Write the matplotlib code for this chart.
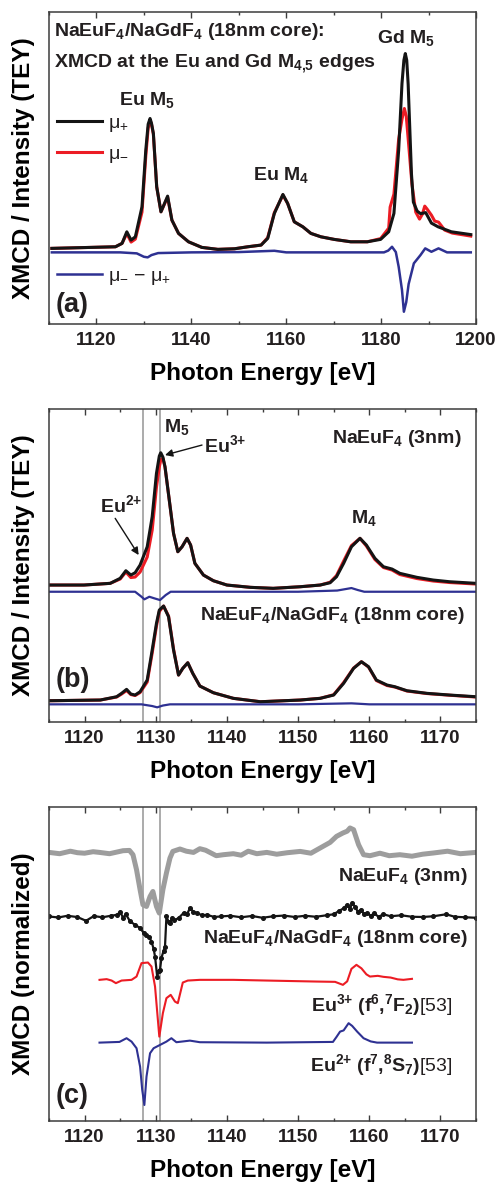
import matplotlib
matplotlib.use('Agg')
import matplotlib.pyplot as plt
from matplotlib.ticker import MultipleLocator

# ---- panel (a): Eu and Gd M4,5 edges, 18 nm core sample ----
a_energy_plus = [1110.6, 1124.0, 1125.4, 1126.4, 1127.3, 1128.2, 1129.6, 1130.4, 1130.9,
                 1131.3, 1131.6, 1132.0, 1132.7, 1133.6, 1135.0, 1135.9, 1137.3, 1139.4,
                 1142.2, 1145.6, 1149.1, 1151.9, 1154.7, 1156.1, 1157.5, 1159.3, 1160.3,
                 1161.7, 1163.5, 1165.2, 1167.3, 1170.1, 1173.6, 1177.1, 1179.9, 1181.6,
                 1182.7, 1183.7, 1184.4, 1184.8, 1185.1, 1185.4, 1185.7, 1186.4, 1186.8,
                 1187.6, 1188.3, 1189.4, 1190.6, 1192.0, 1194.8, 1198.9]
a_mu_plus = [75.7, 77.3, 80.7, 92.3, 84.0, 87.3, 117.3, 174.0, 200.0,
             205.7, 201.0, 190.7, 137.3, 112.3, 128.0, 104.0, 90.7, 82.3,
             76.7, 74.7, 75.3, 77.3, 79.0, 85.7, 110.7, 129.7, 120.7,
             102.3, 97.3, 90.7, 87.3, 84.7, 82.3, 82.3, 84.7, 92.3,
             110.7, 174.0, 240.7, 264.0, 270.7, 264.0, 240.0, 150.0, 122.0,
             113.0, 110.5, 111.5, 101.0, 97.3, 92.3, 89.5]

a_energy_minus = [1110.6, 1124.0, 1125.4, 1126.4, 1127.3, 1128.2, 1129.6, 1130.4, 1130.9,
                  1131.3, 1131.6, 1132.0, 1132.7, 1133.6, 1135.0, 1135.9, 1137.3, 1139.4,
                  1142.2, 1145.6, 1149.1, 1151.9, 1154.7, 1156.1, 1157.5, 1159.3, 1160.3,
                  1161.7, 1163.5, 1165.2, 1167.3, 1170.1, 1173.6, 1177.1, 1179.9, 1181.6,
                  1181.9, 1182.7, 1183.7, 1184.4, 1184.9, 1185.3, 1185.8, 1186.5, 1187.3,
                  1188.1, 1188.7, 1189.2, 1189.7, 1190.6, 1191.3, 1192.1, 1192.6, 1193.4,
                  1195.0, 1198.9]
a_mu_minus = [75.7, 77.3, 80.7, 90.5, 82.0, 85.0, 112.0, 168.0, 196.0,
              204.0, 200.0, 190.0, 137.3, 112.3, 127.0, 104.0, 90.7, 82.3,
              76.7, 74.7, 75.3, 77.3, 79.0, 86.5, 111.5, 129.0, 120.7,
              102.3, 97.3, 90.7, 87.3, 84.7, 82.3, 82.3, 85.5, 96.0,
              117.0, 130.0, 185.0, 205.0, 215.7, 208.0, 180.0, 140.0, 112.0,
              105.0, 110.0, 118.0, 115.0, 109.0, 103.0, 102.0, 99.0, 94.0,
              91.0, 88.0]

a_energy_xmcd = [1110.6, 1125.0, 1128.5, 1130.0, 1130.8, 1131.6, 1133.0, 1140.0, 1150.0,
                 1157.5, 1160.0, 1170.0, 1180.6, 1181.5, 1182.3, 1183.1, 1183.7, 1184.4,
                 1184.8, 1185.3, 1185.8, 1186.9, 1188.3, 1189.3, 1190.6, 1192.1, 1193.9,
                 1198.9]
a_xmcd = [71.7, 71.7, 70.7, 67.3, 66.7, 69.0, 71.0, 71.7, 72.0,
          73.3, 71.7, 71.7, 71.7, 73.5, 77.3, 72.0, 57.3, 34.0,
          12.3, 22.0, 40.0, 60.7, 69.0, 75.7, 72.3, 75.7, 71.7,
          71.7]

# ---- panel (b): NaEuF4 (3nm) on top, NaEuF4/NaGdF4 core below ----
b_energy_top = [1115.0, 1119.9, 1123.6, 1125.0, 1125.8, 1126.5, 1127.1, 1127.8, 1128.8,
                1129.5, 1130.1, 1130.5, 1130.7, 1131.0, 1131.3, 1131.9, 1132.5, 1133.1,
                1133.7, 1134.4, 1134.9, 1135.5, 1136.7, 1138.1, 1140.0, 1143.3, 1146.5,
                1150.3, 1153.1, 1154.5, 1155.4, 1156.4, 1157.5, 1158.7, 1159.6, 1160.8,
                1162.0, 1163.2, 1164.3, 1166.7, 1169.0, 1171.3, 1175.0]
b_top_plus = [137.0, 137.0, 138.7, 143.7, 151.3, 147.0, 149.3, 157.0, 175.3,
              205.3, 248.7, 266.0, 269.3, 265.0, 255.3, 222.0, 188.7, 170.3,
              175.3, 183.7, 177.0, 158.7, 147.0, 141.3, 137.0, 134.7, 133.7,
              135.3, 137.0, 139.3, 145.3, 158.7, 175.3, 183.7, 177.0, 163.7,
              155.3, 153.0, 148.7, 144.7, 142.0, 140.3, 138.7]
b_top_minus = [137.0, 137.0, 138.7, 143.0, 150.0, 144.5, 145.0, 150.0, 165.0,
               192.0, 235.0, 255.0, 262.0, 264.0, 255.0, 222.0, 188.7, 170.3,
               175.3, 183.7, 177.0, 158.7, 147.0, 141.3, 137.0, 134.7, 133.7,
               135.3, 137.0, 139.8, 146.5, 161.0, 176.5, 183.7, 176.0, 162.5,
               154.5, 152.0, 147.5, 143.5, 141.0, 139.5, 138.0]

b_energy_top_xmcd = [1115.0, 1125.0, 1127.1, 1128.0, 1128.4, 1129.1, 1129.8, 1130.6, 1131.4,
                     1132.1, 1140.0, 1150.0, 1155.5, 1157.5, 1158.4, 1159.3, 1175.0]
b_top_xmcd = [130.3, 130.3, 130.3, 125.3, 122.7, 125.3, 123.7, 122.0, 127.0,
              130.3, 130.3, 130.3, 131.5, 134.0, 132.0, 130.3, 130.3]

b_energy_core = [1115.0, 1122.2, 1124.5, 1125.2, 1125.9, 1126.5, 1127.1, 1127.8, 1128.8,
                 1129.5, 1130.1, 1130.5, 1131.1, 1131.8, 1132.5, 1133.2, 1133.8, 1134.5,
                 1135.2, 1136.2, 1138.1, 1140.9, 1144.7, 1150.3, 1153.1, 1155.0, 1156.4,
                 1157.8, 1158.9, 1159.9, 1161.0, 1162.5, 1163.6, 1165.3, 1168.1, 1171.3,
                 1175.0]
b_core_plus = [21.3, 22.0, 25.3, 28.7, 32.7, 28.0, 27.0, 30.3, 42.0,
               72.0, 98.7, 112.0, 116.0, 105.3, 72.0, 47.0, 53.7, 59.3,
               48.7, 36.0, 29.3, 23.7, 20.3, 22.0, 23.7, 27.0, 38.7,
               53.7, 60.3, 55.3, 42.0, 37.0, 35.3, 31.3, 28.7, 27.0,
               25.3]
b_core_minus = [21.3, 22.0, 25.0, 28.0, 31.5, 27.5, 26.5, 29.5, 40.0,
                69.0, 96.0, 110.5, 116.0, 106.0, 73.0, 47.0, 53.7, 59.3,
                48.7, 36.0, 29.3, 23.7, 20.3, 22.0, 23.7, 27.3, 39.5,
                54.0, 60.3, 55.0, 41.5, 36.5, 35.0, 31.0, 28.5, 26.8,
                25.0]

b_energy_core_xmcd = [1115.0, 1128.0, 1129.5, 1130.2, 1131.0, 1132.0, 1150.0, 1157.5, 1160.0, 1175.0]
b_core_xmcd = [17.7, 17.7, 16.0, 14.7, 16.5, 17.7, 17.7, 18.7, 17.7, 17.7]

# ---- panel (c): normalized XMCD and multiplet references ----
c_energy_3nm = [1115.0, 1116.5, 1118.0, 1119.0, 1120.0, 1121.2, 1122.1, 1123.5, 1125.4,
                1126.3, 1126.8, 1127.3, 1127.8, 1128.2, 1128.7, 1129.2, 1129.6, 1130.1,
                1130.5, 1131.0, 1131.5, 1132.0, 1132.4, 1133.4, 1134.3, 1135.3, 1136.2,
                1137.0, 1138.5, 1139.5, 1140.9, 1142.0, 1143.0, 1144.2, 1145.6, 1147.0,
                1148.5, 1150.3, 1151.8, 1153.1, 1154.5, 1155.4, 1156.3, 1156.9, 1157.3,
                1157.8, 1158.5, 1159.2, 1160.1, 1161.5, 1162.8, 1164.3, 1166.0, 1167.5,
                1169.0, 1171.0, 1172.8, 1175.0]
c_3nm = [268.3, 267.0, 269.5, 268.0, 267.5, 269.0, 268.3, 267.0, 270.0,
         270.3, 266.0, 251.0, 231.0, 216.0, 214.3, 224.3, 229.3, 214.3,
         207.7, 231.0, 247.7, 262.7, 269.3, 271.7, 269.5, 268.3, 272.0,
         270.5, 265.0, 266.0, 267.0, 265.5, 269.5, 267.0, 268.3, 266.5,
         268.0, 269.3, 267.5, 272.7, 278.3, 284.3, 287.7, 289.5, 292.7,
         291.0, 276.0, 266.0, 265.0, 267.5, 265.0, 266.0, 264.5, 266.5,
         267.7, 269.5, 267.0, 268.3]

c_energy_core = [1115.0, 1116.3, 1117.6, 1119.0, 1120.2, 1121.3, 1122.5, 1123.7, 1124.6,
                 1125.0, 1125.4, 1125.8, 1126.4, 1127.1, 1127.8, 1128.3, 1128.7, 1129.1,
                 1129.4, 1129.7, 1129.9, 1130.2, 1130.4, 1130.6, 1130.8, 1131.1, 1131.3,
                 1131.5, 1131.8, 1132.0, 1132.3, 1132.6, 1133.2, 1133.9, 1134.4, 1134.8,
                 1135.3, 1135.8, 1136.5, 1137.2, 1138.2, 1139.1, 1140.5, 1142.0, 1143.5,
                 1145.0, 1146.5, 1148.0, 1149.5, 1151.0, 1152.5, 1154.0, 1155.0, 1155.8,
                 1156.4, 1156.9, 1157.3, 1157.6, 1158.0, 1158.4, 1158.8, 1159.3, 1159.7,
                 1160.2, 1160.7, 1161.3, 1162.0, 1163.0, 1164.5, 1166.0, 1167.5, 1169.0,
                 1170.8, 1172.0, 1173.5, 1175.0]
c_core = [204.3, 203.3, 205.0, 203.7, 200.0, 204.7, 203.5, 205.0, 206.0,
          209.0, 203.0, 206.5, 199.3, 196.0, 192.7, 188.0, 186.0, 183.5,
          179.3, 172.0, 164.3, 144.3, 150.0, 151.0, 163.0, 170.0, 174.3,
          204.3, 199.0, 197.7, 203.0, 200.5, 202.7, 207.7, 206.5, 212.7,
          209.0, 207.7, 205.5, 206.0, 203.8, 204.3, 205.0, 203.5, 204.8,
          203.0, 204.5, 205.2, 203.8, 205.0, 204.0, 205.5, 206.5, 210.0,
          212.5, 216.0, 212.0, 218.0, 214.0, 209.0, 211.0, 206.5, 208.0,
          205.0, 207.5, 204.0, 206.5, 204.5, 205.5, 204.0, 203.8, 204.5,
          206.5, 204.0, 203.5, 203.0]

c_energy_eu3 = [1122.1, 1123.1, 1123.8, 1124.4, 1125.2, 1126.6, 1127.3, 1128.0, 1128.9,
                1129.4, 1129.9, 1130.5, 1131.0, 1131.5, 1132.1, 1132.7, 1133.1, 1133.8,
                1134.5, 1136.2, 1140.9, 1145.6, 1152.6, 1155.2, 1156.3, 1156.9, 1157.5,
                1158.2, 1158.9, 1159.6, 1160.1, 1161.2, 1162.0, 1163.0, 1164.0, 1164.8,
                1166.0]
c_eu3 = [141.0, 141.7, 140.3, 137.7, 140.3, 141.0, 144.3, 157.7, 158.3,
         154.3, 134.3, 84.3, 107.7, 122.7, 126.0, 119.3, 117.7, 138.3,
         140.3, 141.0, 141.0, 140.3, 139.3, 139.0, 136.0, 139.5, 152.0,
         156.0, 152.5, 146.5, 144.3, 145.0, 144.0, 143.3, 141.5, 141.0,
         142.0]

c_energy_eu2 = [1122.1, 1124.9, 1125.9, 1126.6, 1127.3, 1127.8, 1128.1, 1128.4, 1128.7,
                1129.2, 1129.7, 1130.6, 1131.5, 1132.2, 1132.9, 1134.8, 1136.2, 1145.6,
                1154.9, 1155.4, 1155.9, 1156.4, 1157.1, 1157.6, 1158.3, 1159.2, 1160.2,
                1161.1, 1166.0]
c_eu2 = [78.3, 79.0, 82.7, 79.3, 72.7, 54.3, 31.0, 16.0, 44.3,
         67.7, 72.7, 76.0, 79.3, 82.7, 78.7, 80.3, 78.7, 78.3,
         79.0, 84.0, 89.3, 90.5, 97.7, 95.0, 89.3, 82.7, 79.5,
         78.3, 78.3]

# Eu2+ / Eu3+ M5 positions marked in (b) and (c)
edge_lines = [1128.2, 1130.6]

BLACK = '#141414'
RED = '#ec1c24'
BLUE = '#2e3192'
GRAY = '#9d9d9d'
TXT = '#231f20'

plt.rcParams['font.family'] = ['Liberation Sans', 'DejaVu Sans']
plt.rcParams['font.weight'] = 'bold'
plt.rcParams['axes.labelweight'] = 'bold'
plt.rcParams['mathtext.fontset'] = 'custom'
plt.rcParams['mathtext.rm'] = 'Liberation Sans:bold'
plt.rcParams['mathtext.it'] = 'Liberation Sans:bold'
plt.rcParams['mathtext.bf'] = 'Liberation Sans:bold'
plt.rcParams['mathtext.sf'] = 'Liberation Sans:weight=normal'
plt.rcParams['mathtext.default'] = 'rm'
plt.rcParams['text.color'] = TXT
plt.rcParams['axes.edgecolor'] = '#3c3c3c'
plt.rcParams['axes.linewidth'] = 1.1
plt.rcParams['xtick.color'] = '#3c3c3c'
plt.rcParams['xtick.labelcolor'] = TXT

fig = plt.figure(figsize=(5, 11.86), dpi=100)
ax_a = fig.add_axes([0.098, 0.7268, 0.854, 0.2631])
ax_b = fig.add_axes([0.098, 0.3912, 0.854, 0.2639])
ax_c = fig.add_axes([0.098, 0.0548, 0.854, 0.2648])


def style_axis(ax, xlim, ylim, major, minor, ylabel):
    ax.set_xlim(*xlim)
    ax.set_ylim(*ylim)
    ax.xaxis.set_major_locator(MultipleLocator(major))
    ax.xaxis.set_minor_locator(MultipleLocator(minor))
    ax.tick_params(axis='x', which='both', direction='in', top=True, bottom=True, width=1.0)
    ax.tick_params(axis='x', which='major', length=4, pad=6, labelsize=13.5)
    ax.tick_params(axis='x', which='minor', length=2.5)
    ax.tick_params(axis='y', which='both', left=False, right=False, labelleft=False)
    ax.set_xlabel('Photon Energy [eV]', fontsize=17.5, labelpad=9)
    ax.set_ylabel(ylabel, fontsize=17.5)
    ax.yaxis.set_label_coords(-0.032, 0.5)


# (a)
style_axis(ax_a, (1110, 1200), (0, 312.3), 20, 10, 'XMCD / Intensity (TEY)')
red_a, = ax_a.plot(a_energy_minus, a_mu_minus, color=RED, lw=2.2, label='μ$_\\mathsf{-}$')
blk_a, = ax_a.plot(a_energy_plus, a_mu_plus, color=BLACK, lw=2.2, label='μ$_\\mathsf{+}$')
blu_a, = ax_a.plot(a_energy_xmcd, a_xmcd, color=BLUE, lw=1.8, label='μ$_\\mathsf{-}$ − μ$_\\mathsf{+}$')

leg1 = ax_a.legend(handles=[blk_a, red_a], loc='center left', bbox_to_anchor=(0.019, 0.591),
                   frameon=False, prop={'weight': 'normal', 'size': 14}, handlelength=2.3,
                   handletextpad=0.3, labelspacing=0.55, borderpad=0, borderaxespad=0)
ax_a.add_artist(leg1)
ax_a.legend(handles=[blu_a], loc='center left', bbox_to_anchor=(0.019, 0.151),
            frameon=False, prop={'weight': 'normal', 'size': 14}, handlelength=2.3,
            handletextpad=0.3, borderpad=0, borderaxespad=0)

ax_a.text(1111.05, 288, 'NaEuF$_4$/NaGdF$_4$ (18nm core):', fontsize=14, va='baseline')
ax_a.text(1111.05, 257, 'XMCD at the Eu and Gd M$_{4{,}5}$ edges', fontsize=14, va='baseline')
ax_a.text(1185.2, 281, 'Gd M$_5$', fontsize=14, ha='center', va='baseline')
ax_a.text(1130.75, 219, 'Eu M$_5$', fontsize=14, ha='center', va='baseline')
ax_a.text(1159.0, 144, 'Eu M$_4$', fontsize=14, ha='center', va='baseline')
ax_a.text(1111.3, 12.3, '(a)', fontsize=19.5, va='baseline')

# (b)
style_axis(ax_b, (1115, 1175), (0, 313), 10, 5, 'XMCD / Intensity (TEY)')
for e in edge_lines:
    ax_b.axvline(e, color=GRAY, lw=1.2, zorder=1)
ax_b.plot(b_energy_top, b_top_minus, color=RED, lw=2.2)
ax_b.plot(b_energy_top, b_top_plus, color=BLACK, lw=2.2)
ax_b.plot(b_energy_top_xmcd, b_top_xmcd, color=BLUE, lw=1.6)
ax_b.plot(b_energy_core, b_core_minus, color=RED, lw=2.2)
ax_b.plot(b_energy_core, b_core_plus, color=BLACK, lw=2.2)
ax_b.plot(b_energy_core_xmcd, b_core_xmcd, color=BLUE, lw=1.6)

arrow = dict(arrowstyle='-|>', color=BLACK, lw=1.0, mutation_scale=11, shrinkA=0, shrinkB=0)
ax_b.annotate('', xy=(1131.3, 267), xytext=(1136.5, 277), arrowprops=arrow)
ax_b.annotate('', xy=(1127.6, 167), xytext=(1124.3, 203.7), arrowprops=arrow)
ax_b.text(1133.0, 290, 'M$_5$', fontsize=14, ha='center', va='baseline')
ax_b.text(1136.8, 270.3, 'Eu$^{3{+}}$', fontsize=14, va='baseline')
ax_b.text(1122.1, 210.3, 'Eu$^{2{+}}$', fontsize=14, va='baseline')
ax_b.text(1159.2, 198.7, 'M$_4$', fontsize=14, ha='center', va='baseline')
ax_b.text(1173.0, 278.7, 'NaEuF$_4$ (3nm)', fontsize=14, ha='right', va='baseline')
ax_b.text(1173.4, 102, 'NaEuF$_4$/NaGdF$_4$ (18nm core)', fontsize=14, ha='right', va='baseline')
ax_b.text(1115.9, 35.3, '(b)', fontsize=19.5, va='baseline')

# (c)
style_axis(ax_c, (1115, 1175), (0, 313.7), 10, 5, 'XMCD (normalized)')
for e in edge_lines:
    ax_c.axvline(e, color=GRAY, lw=1.2, zorder=1)
ax_c.plot(c_energy_3nm, c_3nm, color=GRAY, lw=3.6, solid_joinstyle='round')
ax_c.plot(c_energy_core, c_core, color=BLACK, lw=1.6, marker='o', ms=2.6, mec=BLACK, mfc=BLACK)
ax_c.plot(c_energy_eu3, c_eu3, color=RED, lw=1.5)
ax_c.plot(c_energy_eu2, c_eu2, color=BLUE, lw=1.5)

ax_c.text(1173.8, 239.3, 'NaEuF$_4$ (3nm)', fontsize=14, ha='right', va='baseline')
ax_c.text(1173.8, 177.7, 'NaEuF$_4$/NaGdF$_4$ (18nm core)', fontsize=14, ha='right', va='baseline')
ax_c.text(1171.6, 109.3, 'Eu$^{3{+}}$ (f$^6$,$^7$F$_2$)$\\mathsf{[53]}$', fontsize=14, ha='right', va='baseline')
ax_c.text(1171.7, 50.3, 'Eu$^{2{+}}$ (f$^7$,$^8$S$_7$)$\\mathsf{[53]}$', fontsize=14, ha='right', va='baseline')
ax_c.text(1116.0, 17.7, '(c)', fontsize=19.5, va='baseline')

# tick labels only exist after a first draw; make them bold before saving
fig.canvas.draw()
for ax in (ax_a, ax_b, ax_c):
    for lbl in ax.get_xticklabels():
        lbl.set_fontweight('bold')

fig.savefig('out.png', dpi=100)
